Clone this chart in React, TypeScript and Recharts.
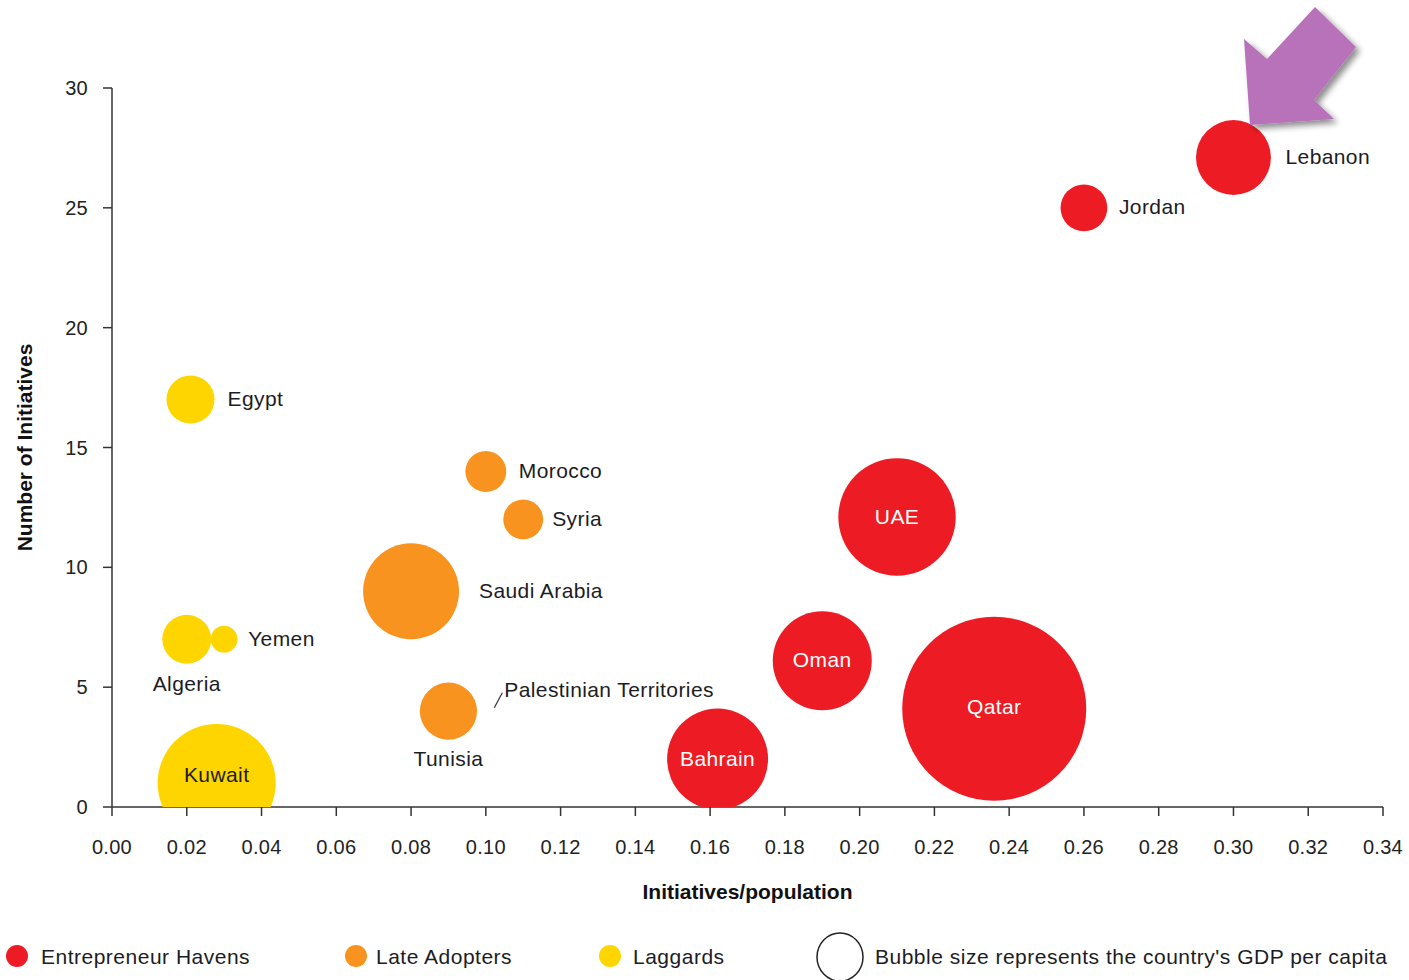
import React from 'react';
import { ScatterChart, Scatter, XAxis, YAxis, ZAxis } from 'recharts';

const RED = '#ED1C24';
const ORANGE = '#F7931E';
const YELLOW = '#FFD500';
const FONT = '"Liberation Sans", Arial, sans-serif';

// Entrepreneur Havens
const havenNames = ['Lebanon', 'Jordan', 'UAE', 'Oman', 'Qatar', 'Bahrain'];
const havenX = [0.3, 0.26, 0.21, 0.19, 0.236, 0.162];
const havenY = [27.1, 25, 12.1, 6.1, 4.1, 2];
const havenGdp = [14.1, 5.5, 34.6, 24.6, 85, 25.6];

// Late Adopters
const lateNames = ['Morocco', 'Syria', 'Saudi Arabia', 'Tunisia', 'Palestinian Territories'];
const lateX = [0.1, 0.11, 0.08, 0.09, 0.102];
const lateY = [14, 12, 9, 4, 4.1];
const lateGdp = [4.2, 4.0, 23.1, 8.2, 0];

// Laggards
const laggardNames = ['Egypt', 'Algeria', 'Yemen', 'Kuwait'];
const laggardX = [0.021, 0.02, 0.03, 0.028];
const laggardY = [17, 7, 7, 1];
const laggardGdp = [5.8, 6.0, 1.8, 35];

const xTicks = [0, 0.02, 0.04, 0.06, 0.08, 0.1, 0.12, 0.14, 0.16, 0.18, 0.2, 0.22, 0.24, 0.26, 0.28, 0.3, 0.32, 0.34];
const yTicks = [0, 5, 10, 15, 20, 25, 30];

const build = (names: string[], xs: number[], ys: number[], gdp: number[]) =>
  names.map((name, i) => ({ name, x: xs[i], y: ys[i], gdp: gdp[i] }));

const havens = build(havenNames, havenX, havenY, havenGdp);
const lateAdopters = build(lateNames, lateX, lateY, lateGdp);
const laggards = build(laggardNames, laggardX, laggardY, laggardGdp);

// where each country's name sits relative to its bubble
type Place = { dx: number; dy: number; anchor: 'start' | 'middle'; fill: string; leader?: boolean };
const DARK = '#1c1c24';
const labelPlace: Record<string, Place> = {
  Lebanon: { dx: 52, dy: -1, anchor: 'start', fill: DARK },
  Jordan: { dx: 35, dy: -1, anchor: 'start', fill: DARK },
  UAE: { dx: 0, dy: -1, anchor: 'middle', fill: '#fff' },
  Oman: { dx: 0, dy: -1, anchor: 'middle', fill: '#fff' },
  Qatar: { dx: 0, dy: -2, anchor: 'middle', fill: '#fff' },
  Bahrain: { dx: 0, dy: -1, anchor: 'middle', fill: '#fff' },
  Morocco: { dx: 33, dy: -1, anchor: 'start', fill: DARK },
  Syria: { dx: 29, dy: -1, anchor: 'start', fill: DARK },
  'Saudi Arabia': { dx: 68, dy: -1, anchor: 'start', fill: DARK },
  Tunisia: { dx: 0, dy: 47, anchor: 'middle', fill: DARK },
  'Palestinian Territories': { dx: 11, dy: -19, anchor: 'start', fill: DARK, leader: true },
  Egypt: { dx: 37, dy: -1, anchor: 'start', fill: DARK },
  Algeria: { dx: 0, dy: 44, anchor: 'middle', fill: DARK },
  Yemen: { dx: 24, dy: -1, anchor: 'start', fill: DARK },
  Kuwait: { dx: 0, dy: -9, anchor: 'middle', fill: DARK },
};

const Bubble = (props: any) => {
  const { cx, cy, size, payload, color } = props;
  const r = Math.sqrt(Math.max(size || 0, 0) / Math.PI);
  const p = labelPlace[payload.name];
  return (
    <g>
      {r > 0.5 && <circle cx={cx} cy={cy} r={r} fill={color} />}
      {p && p.leader && (
        <line x1={cx + 1} y1={cy - 1} x2={cx + 9} y2={cy - 16} stroke="#333" strokeWidth={1.2} />
      )}
      {p && (
        <text
          x={cx + p.dx}
          y={cy + p.dy}
          textAnchor={p.anchor}
          dominantBaseline="central"
          fill={p.fill}
          fontSize={21}
          letterSpacing={0.4}
          fontFamily={FONT}
        >
          {payload.name}
        </text>
      )}
    </g>
  );
};

const legendItems = [
  { label: 'Entrepreneur Havens', color: RED, cx: 17, tx: 41 },
  { label: 'Late Adopters', color: ORANGE, cx: 356, tx: 376 },
  { label: 'Laggards', color: YELLOW, cx: 610, tx: 633 },
];

const Legend = () => (
  <svg width={1409} height={60} style={{ position: 'absolute', left: 0, top: 926 }}>
    {legendItems.map((it) => (
      <g key={it.label}>
        <circle cx={it.cx} cy={30} r={11} fill={it.color} />
        <text x={it.tx} y={30} dominantBaseline="central" fontSize={21} letterSpacing={0.5} fill={DARK} fontFamily={FONT}>
          {it.label}
        </text>
      </g>
    ))}
    <ellipse cx={840} cy={31} rx={23} ry={24} fill="none" stroke="#222" strokeWidth={1.5} />
    <text x={875} y={30} dominantBaseline="central" fontSize={21} letterSpacing={0.5} fill={DARK} fontFamily={FONT}>
      Bubble size represents the country's GDP per capita
    </text>
  </svg>
);

const Arrow = () => (
  <svg width={1409} height={200} style={{ position: 'absolute', left: 0, top: 0, pointerEvents: 'none' }}>
    <defs>
      <filter id="arrowShadow" x="-20%" y="-20%" width="150%" height="150%">
        <feGaussianBlur in="SourceAlpha" stdDeviation="3" />
        <feOffset dx="4" dy="4" result="blur" />
        <feComponentTransfer>
          <feFuncA type="linear" slope="0.45" />
        </feComponentTransfer>
        <feMerge>
          <feMergeNode />
          <feMergeNode in="SourceGraphic" />
        </feMerge>
      </filter>
    </defs>
    <polygon
      points="1250,125 1244,39 1267,59 1315,7 1356,47 1314,100 1334,119"
      fill="#B872B9"
      filter="url(#arrowShadow)"
    />
  </svg>
);

const App = () => {
  const axisStroke = { stroke: '#333', strokeWidth: 1.5 };
  const tick = { fill: '#222', fontSize: 20, fontFamily: FONT, letterSpacing: 0.3 };
  return (
    <div style={{ position: 'absolute', left: 0, top: 0, width: 1409, height: 980, background: '#fff', fontFamily: FONT }}>
      <ScatterChart width={1409} height={980} margin={{ top: 88, right: 26, bottom: 73, left: 0 }}>
        <XAxis
          type="number"
          dataKey="x"
          domain={[0, 0.34]}
          ticks={xTicks}
          interval={0}
          tickFormatter={(v: number) => v.toFixed(2)}
          height={100}
          tickSize={9}
          tickMargin={24}
          tick={tick}
          axisLine={axisStroke}
          tickLine={axisStroke}
          label={{ value: 'Initiatives/population', position: 'insideBottom', offset: 8, fill: '#111', fontSize: 21, fontWeight: 'bold', fontFamily: FONT }}
        />
        <YAxis
          type="number"
          dataKey="y"
          domain={[0, 30]}
          ticks={yTicks}
          interval={0}
          allowDataOverflow
          width={112}
          tickSize={9}
          tickMargin={15}
          tick={tick}
          axisLine={axisStroke}
          tickLine={axisStroke}
          label={{ value: 'Number of Initiatives', angle: -90, position: 'insideLeft', offset: 25, fill: '#111', fontSize: 21, fontWeight: 'bold', fontFamily: FONT, style: { textAnchor: 'middle' } }}
        />
        <ZAxis type="number" dataKey="gdp" domain={[0, 85]} range={[0, Math.PI * 92 * 92]} />
        <Scatter name="Entrepreneur Havens" data={havens} fill={RED} isAnimationActive={false} shape={(p: any) => <Bubble {...p} color={RED} />} />
        <Scatter name="Late Adopters" data={lateAdopters} fill={ORANGE} isAnimationActive={false} shape={(p: any) => <Bubble {...p} color={ORANGE} />} />
        <Scatter name="Laggards" data={laggards} fill={YELLOW} isAnimationActive={false} shape={(p: any) => <Bubble {...p} color={YELLOW} />} />
      </ScatterChart>
      <Arrow />
      <Legend />
    </div>
  );
};

export default App;
